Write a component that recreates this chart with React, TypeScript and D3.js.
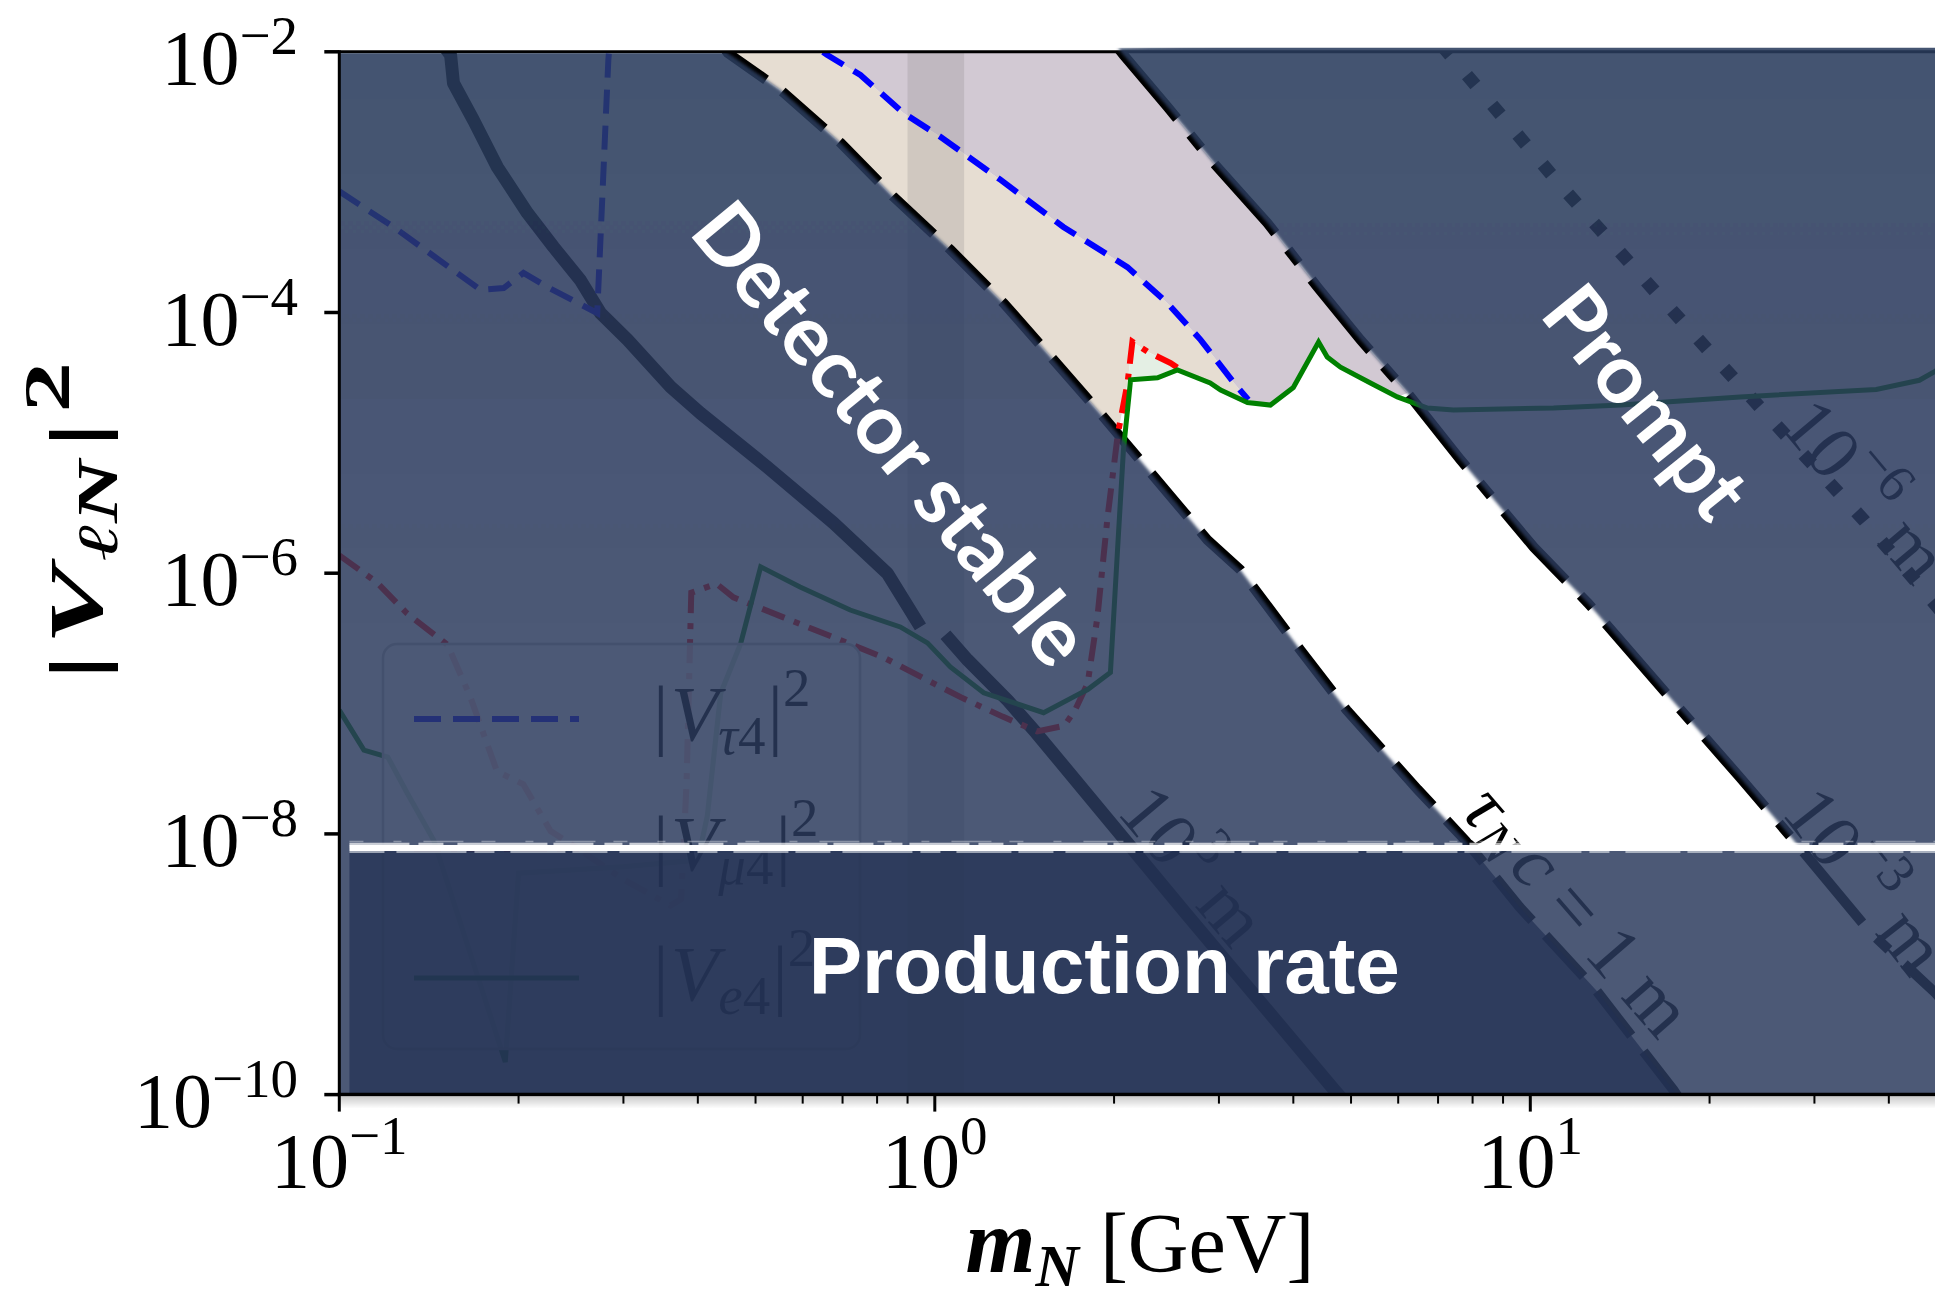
import React from "react";
import * as d3 from "d3";

type P = [number, number];

// axis ticks
const xMajorExp: Record<string, string> = { "0.1": "−1", "1": "0", "10": "1" };
const yMajor = [1e-2, 1e-4, 1e-6, 1e-8, 1e-10];
const yMajorExp = ["−2", "−4", "−6", "−8", "−10"];

// lifetime contours, [m_N GeV, |V|^2]
const ctau1kmA: P[] = [[0.148, 1.2e-2], [0.1538, 9.4e-3], [0.1555, 5.75e-3], [0.168, 2.99e-3], [0.1843, 1.3e-3], [0.207, 5.79e-4], [0.229, 3.18e-4], [0.254, 1.77e-4], [0.2746, 9.89e-5], [0.305, 6.17e-5], [0.36, 2.69e-5], [0.404, 1.69e-5], [0.523, 6.53e-6], [0.676, 2.43e-6], [0.832, 1.0e-6], [0.946, 3.87e-7]];
const ctau1kmB: P[] = [[1.042, 3.37e-7], [1.135, 2.16e-7], [1.325, 1.06e-7], [1.481, 5.94e-8], [2.64, 2.46e-9], [4.69, 1.08e-10], [5.2, 6.3e-11]];
const ctau1m: P[] = [[0.44, 1.12e-2], [0.449, 9.8e-3], [0.551, 5.09e-3], [0.695, 2.0e-3], [0.853, 7.69e-4], [1.063, 3.02e-4], [1.305, 1.18e-4], [1.583, 4.33e-5], [1.92, 1.58e-5], [2.305, 5.89e-6], [2.87, 1.8e-6], [3.26, 1.06e-6], [4.11, 2.58e-7], [4.915, 8.91e-8], [6.47, 2.19e-8], [7.78, 8.91e-9], [9.59, 2.75e-9], [12.9, 6.31e-10], [17.4, 1.08e-10], [18.5, 7.1e-11]];
const ctau1mm: P[] = [[2.03, 1.07e-2], [2.075, 9.44e-3], [2.46, 3.77e-3], [2.94, 1.4e-3], [3.62, 4.85e-4], [4.39, 1.57e-4], [5.19, 6.14e-5], [6.22, 2.41e-5], [7.64, 7.38e-6], [10.14, 1.58e-6], [12.5, 5.89e-7], [16.75, 1.26e-7], [22.5, 2.71e-8], [27.7, 8.91e-9], [37.3, 1.74e-9], [47.9, 6.03e-10], [60, 1.78e-10]];
const ctau1um: P[] = [[7.1, 1.12e-2], [7.58, 7.88e-3], [11.2, 9.64e-4], [16.6, 1.28e-4], [24.5, 1.8e-5], [36.3, 2.56e-6], [44.5, 8.55e-7], [60, 1.7e-7]];

// mixing limits
const tau4: P[] = [[0.1, 8.5e-4], [0.1233, 4.53e-4], [0.1727, 1.49e-4], [0.1888, 1.54e-4], [0.2038, 2.01e-4], [0.2235, 1.57e-4], [0.2711, 9.9e-5], [0.283, 8.65e-3], [0.286, 1.58e-2], [0.45, 3e-2], [0.63, 1.1e-2], [0.66, 9.44e-3], [0.75, 6.64e-3], [0.886, 3.39e-3], [1.023, 2.22e-3], [1.29, 1.04e-3], [1.644, 4.53e-4], [2.106, 2.23e-4], [2.459, 1.18e-4], [2.795, 6.17e-5], [3.18, 2.88e-5], [3.36, 2.14e-5]];
const mu4: P[] = [[0.1, 1.37e-6], [0.1156, 8.51e-7], [0.13, 4.9e-7], [0.152, 2.82e-7], [0.166, 1.12e-7], [0.184, 3.02e-8], [0.2037, 2.4e-8], [0.2264, 1.05e-8], [0.251, 7.76e-9], [0.3, 4.47e-9], [0.36, 2.82e-9], [0.375, 3.16e-9], [0.383, 2.5e-8], [0.39, 7.08e-7], [0.43, 8.3e-7], [0.459, 6.53e-7], [0.557, 4.58e-7], [0.676, 3.22e-7], [0.82, 2.26e-7], [0.995, 1.43e-7], [1.105, 1.12e-7], [1.3, 7.94e-8], [1.486, 6.11e-8], [1.65, 6.76e-8], [1.72, 8.9e-8], [1.806, 1.43e-7], [1.875, 4.58e-7], [1.95, 2.68e-6], [2.03, 1.18e-5], [2.107, 2.88e-5], [2.147, 5.97e-5], [2.275, 5.01e-5], [2.489, 4.09e-5], [2.59, 3.63e-5]];
const e4: P[] = [[0.1, 8.9e-8], [0.11, 4.4e-8], [0.1206, 3.89e-8], [0.13, 2.06e-8], [0.144, 8.97e-9], [0.19, 1.78e-10], [0.2, 5.0e-9], [0.3, 5.6e-9], [0.4, 6.3e-9], [0.415, 1.38e-8], [0.437, 1.2e-7], [0.472, 2.88e-7], [0.51, 1.12e-6], [0.594, 7.85e-7], [0.721, 5.22e-7], [0.875, 3.87e-7], [0.972, 2.92e-7], [1.062, 1.91e-7], [1.208, 1.21e-7], [1.523, 8.51e-8], [1.713, 1.13e-7], [1.806, 1.28e-7], [1.972, 1.73e-7], [2.027, 1.51e-6], [2.074, 8.87e-6], [2.132, 3.05e-5], [2.366, 3.16e-5], [2.555, 3.63e-5], [2.9, 2.88e-5], [3.02, 2.54e-5], [3.35, 2.04e-5], [3.66, 1.95e-5], [4.0, 2.66e-5], [4.41, 5.93e-5], [4.56, 4.55e-5], [4.8, 3.81e-5], [5.39, 2.88e-5], [5.98, 2.25e-5], [6.72, 1.85e-5], [7.43, 1.79e-5], [10.94, 1.85e-5], [14.2, 1.95e-5], [22.5, 2.25e-5], [38.1, 2.57e-5], [45, 3.02e-5], [47.9, 3.55e-5], [52, 5e-5]];

// vertical shaded band and production-rate cut
const vBand = [0.9, 1.12];
const prodCut = 7.8e-9;

// annotation anchors [m, |V|^2, angle]
const lblDetector: number[] = [0.853, 1.21e-5, 50.5];
const lblPrompt: number[] = [15.8, 2.13e-5, 51];
const lblProduction: number[] = [0.614, 6.0e-10];
const lbl1km: number[] = [2.72, 5.77e-9, 50];
const lbl1m: number[] = [12.05, 2.61e-9, 49];
const lbl1mm: number[] = [36.6, 4.43e-9, 52];
const lbl1um: number[] = [36.6, 4.35e-6, 50];

const W = 1935, H = 1294;
const L = 339.3, T = 51.8, B = 1094.6;
const serif = "'Liberation Serif', 'DejaVu Serif', serif";

export default function App() {
  const x = d3.scaleLog().domain([0.1, 100]).range([L, L + 3 * 595.5]);
  const y = d3.scaleLog().domain([1e-10, 1e-2]).range([B, T]);
  const line = d3.line<P>().x(d => x(d[0])).y(d => y(d[1]));
  const poly = (pts: P[]) => (line(pts) ?? "") + "Z";

  const beige: P[] = [
    ...ctau1m.filter(p => p[0] <= 1.92),
    ...mu4.filter(p => p[0] >= 2.03 && p[0] <= 2.6),
    ...e4.filter(p => p[0] > 2.6 && p[0] < 3.36),
    ...tau4.filter(p => p[0] >= 0.6).reverse(),
  ];
  const lilac: P[] = [
    ...tau4.filter(p => p[0] >= 0.6),
    ...e4.filter(p => p[0] > 3.36 && p[0] < 6.3),
    ...ctau1mm.filter(p => p[0] <= 6.3).reverse(),
  ];
  const paleGreen: P[] = [
    ...mu4.filter(p => p[0] >= 2.1),
    ...e4.filter(p => p[0] >= 2.1 && p[0] <= 2.6).reverse(),
  ];
  const detector: P[] = [[0.05, 2e-2], ...ctau1m, [0.05, 1e-11]];
  const prompt: P[] = [[200, 2e-2], [200, 1e-11], ...[...ctau1mm].reverse()];
  const band: P[] = [[0.05, prodCut], [200, prodCut], [200, 1e-11], [0.05, 1e-11]];
  const overlayD = poly(detector) + poly(prompt) + poly(band);

  const ticks = x.ticks().filter(v => x(v) <= W + 1);
  const isMajor = (v: number) => Math.abs(Math.log10(v) - Math.round(Math.log10(v))) < 1e-6;

  const rot = (a: number[]) => `translate(${x(a[0])},${y(a[1])}) rotate(${a[2]})`;
  const cl = { fontFamily: serif, fontSize: 76, fill: "#000" };
  const yb = y(prodCut);

  return (
    <svg width={W} height={H} style={{ position: "absolute", left: 0, top: 0 }} xmlns="http://www.w3.org/2000/svg">
      <defs>
        <clipPath id="plot"><rect x={L} y={T} width={W - L} height={B - T} /></clipPath>
        <clipPath id="ov">
          <rect x={L} y={T + 1.5} width={W - L} height={B - T - 1.5} />
          <rect x={x(2.0)} y={T - 4} width={W - x(2.0)} height={B - T + 4} />
        </clipPath>
        <clipPath id="det"><path d={poly(detector)} /></clipPath>
        <filter id="soft" x="0" y="0" width={W} height={H} filterUnits="userSpaceOnUse">
          <feGaussianBlur stdDeviation="1.4" />
        </filter>
        <filter id="rough" x="0" y="0" width={W} height={H} filterUnits="userSpaceOnUse">
          <feGaussianBlur stdDeviation="0.6" />
        </filter>
        <linearGradient id="shade" x1="0" y1="0" x2="0" y2="1">
          <stop offset="0" stopColor="#000" stopOpacity="0.2" />
          <stop offset="1" stopColor="#000" stopOpacity="0" />
        </linearGradient>
        <linearGradient id="ovFill" gradientUnits="userSpaceOnUse" x1="0" y1={T} x2="0" y2={B}>
          <stop offset="0" stopColor="#283a5c" stopOpacity="0.875" />
          <stop offset="0.55" stopColor="#283a5c" stopOpacity="0.845" />
          <stop offset="1" stopColor="#283a5c" stopOpacity="0.845" />
        </linearGradient>
      </defs>
      <rect width={W} height={H} fill="#fff" />

      <g clipPath="url(#plot)">
        <path d={poly(beige)} fill="#e6ddd2" />
        <path d={poly(lilac)} fill="#d2c9d3" />
        <path d={poly(paleGreen)} fill="#e4efe4" />
        <rect x={x(vBand[0])} y={T} width={x(vBand[1]) - x(vBand[0])} height={B - T} fill="#777" fillOpacity={0.2} />

        <path d={line(ctau1kmA) ?? ""} fill="none" stroke="#000" strokeWidth={13} strokeLinejoin="round" />
        <path d={line(ctau1kmB) ?? ""} fill="none" stroke="#000" strokeWidth={13} strokeLinejoin="round" />
        <path d={line(ctau1m) ?? ""} fill="none" stroke="#000" strokeWidth={10} strokeDasharray="56 20" />
        <path d={line(ctau1mm) ?? ""} fill="none" stroke="#000" strokeWidth={10} strokeDasharray="92 21 17 21" />
        <path d={line(ctau1um) ?? ""} fill="none" stroke="#000" strokeWidth={13} strokeDasharray="13 26" />
        <path d={line(tau4) ?? ""} fill="none" stroke="#0000ff" strokeWidth={6} strokeDasharray="24 12" />
        <path d={line(mu4) ?? ""} fill="none" stroke="#ff0000" strokeWidth={6} strokeDasharray="24 10 6 10" />
        <path d={line(e4) ?? ""} fill="none" stroke="#008000" strokeWidth={5} />

        <text transform={rot(lbl1km)} textAnchor="middle" dominantBaseline="central" {...cl}>
          10<tspan dy={-28} fontSize={54}>3</tspan><tspan dy={28}> m</tspan>
        </text>
        <text transform={rot(lbl1m)} textAnchor="middle" dominantBaseline="central" {...cl}>
          <tspan fontStyle="italic">τ</tspan>
          <tspan fontStyle="italic" fontSize={54} dy={18} dx={2}>N</tspan>
          <tspan fontStyle="italic" dy={-18} dx={8}>c</tspan>
          <tspan> = 1 m</tspan>
        </text>
        <text transform={rot(lbl1mm)} textAnchor="middle" dominantBaseline="central" {...cl}>
          10<tspan dy={-28} fontSize={54}>−3</tspan><tspan dy={28}> m</tspan>
        </text>
        <text transform={rot(lbl1um)} textAnchor="middle" dominantBaseline="central" {...cl}>
          10<tspan dy={-28} fontSize={54}>−6</tspan><tspan dy={28}> m</tspan>
        </text>

        {/* legend (sits underneath the shaded overlays) */}
        <rect x={383} y={644} width={477} height={405} rx={14} fill="#fff" fillOpacity={0.8} stroke="#c8c8c8" strokeWidth={2.5} />
        <line x1={414} x2={579} y1={719} y2={719} stroke="#0000ff" strokeWidth={6} strokeDasharray="27 12" />
        <line x1={414} x2={579} y1={849} y2={849} stroke="#ff0000" strokeWidth={6} strokeDasharray="27 10 6 10" />
        <line x1={414} x2={579} y1={978} y2={978} stroke="#008000" strokeWidth={5} />
        {[["τ", 740], ["μ", 870], ["e", 1000]].map(([s, by]) => (
          <text key={s as string} x={653} y={by as number} fontFamily={serif} fontSize={78} fill="#000">
            |<tspan fontStyle="italic" dx={2}>V</tspan>
            <tspan fontSize={55} dy={14}><tspan fontStyle="italic">{s}</tspan>4</tspan>
            <tspan dy={-14} dx={2}>|</tspan><tspan fontSize={55} dy={-34}>2</tspan>
          </text>
        ))}
      </g>

      <line x1={L} x2={W} y1={T} y2={T} stroke="#000" strokeWidth={3} />

      <g clipPath="url(#ov)">
        <path d={overlayD} fill="url(#ovFill)" fillRule="nonzero" filter="url(#soft)" />
      </g>
      <g clipPath="url(#plot)">
        <g clipPath="url(#det)">
          <rect x={x(0.104)} y={yb} width={W - x(0.104)} height={B - yb} fill="#223152" fillOpacity={0.7} />
        </g>
        <g filter="url(#rough)">
          <line x1={x(0.104)} x2={W} y1={yb} y2={yb} stroke="#fff" strokeWidth={6} />
          <line x1={x(0.104)} x2={W} y1={yb - 4} y2={yb - 4} stroke="#fff" strokeOpacity={0.7} strokeWidth={2.5} strokeDasharray="60 9 25 14 90 6 40 11 18 7" />
          <line x1={x(0.104)} x2={W} y1={yb + 4} y2={yb + 4} stroke="#e8ebf0" strokeOpacity={0.6} strokeWidth={2} strokeDasharray="35 12 70 8 20 16 55 7" />
          <line x1={x(0.104)} x2={W} y1={yb - 6.5} y2={yb - 6.5} stroke="#fff" strokeOpacity={0.35} strokeWidth={1.5} strokeDasharray="14 30 8 22 40 18" />
        </g>
      </g>

      <rect x={L} y={B + 2} width={W - L} height={12} fill="url(#shade)" />
      <line x1={L} x2={L} y1={T - 1.5} y2={B + 1.5} stroke="#000" strokeWidth={3} />
      <line x1={L - 1.5} x2={W} y1={B} y2={B} stroke="#000" strokeWidth={3.5} />

      {yMajor.map(v => (
        <line key={"yt" + v} x1={L - 15} x2={L} y1={y(v)} y2={y(v)} stroke="#000" strokeWidth={3.5} />
      ))}
      {ticks.map(v => (
        <line key={"xt" + v} x1={x(v)} x2={x(v)} y1={B} y2={B + (isMajor(v) ? 17 : 9)} stroke="#000" strokeWidth={isMajor(v) ? 3 : 2} />
      ))}

      {yMajor.map((v, i) => (
        <text key={"yl" + v} x={298} y={y(v) + 32} textAnchor="end" fontFamily={serif} fontSize={78} fill="#000">
          10<tspan dy={-30} fontSize={55}>{yMajorExp[i]}</tspan>
        </text>
      ))}
      {ticks.filter(isMajor).map(v => (
        <text key={"xl" + v} x={x(v)} y={1187} textAnchor="middle" fontFamily={serif} fontSize={78} fill="#000">
          10<tspan dy={-33} fontSize={55}>{xMajorExp[String(v)]}</tspan>
        </text>
      ))}

      <text x={x(lblProduction[0])} y={y(lblProduction[1])} fontFamily="'Liberation Sans', Arial, sans-serif" fontWeight="bold" fontSize={80} fill="#fff">
        Production rate
      </text>
      <text transform={rot(lblDetector)} textAnchor="middle" dominantBaseline="central" fontFamily="Lato, sans-serif" fontWeight="bold" fontSize={83} fill="#fff">
        Detector stable
      </text>
      <text transform={rot(lblPrompt)} textAnchor="middle" dominantBaseline="central" fontFamily="Lato, sans-serif" fontWeight="bold" fontSize={82} fill="#fff">
        Prompt
      </text>

      <g transform="translate(102,680) rotate(-90)">
        <text fontFamily={serif} fontWeight="bold" fontSize={77} fill="#000" textLength={318} lengthAdjust="spacingAndGlyphs">
          |<tspan fontStyle="italic" dx={6}>V</tspan>
          <tspan fontStyle="italic" fontSize={57} dy={15} dx={4}>ℓN</tspan>
          <tspan dy={-15} dx={8}>|</tspan>
          <tspan fontSize={66} dy={-33} dx={6}>2</tspan>
        </text>
      </g>
      <text x={1140} y={1272} textAnchor="middle" fontFamily={serif} fontSize={84} fill="#000">
        <tspan fontWeight="bold" fontStyle="italic" fontSize={90}>m</tspan>
        <tspan fontWeight="bold" fontStyle="italic" fontSize={60} dy={14}>N</tspan>
        <tspan dy={-14}> [GeV]</tspan>
      </text>
    </svg>
  );
}
